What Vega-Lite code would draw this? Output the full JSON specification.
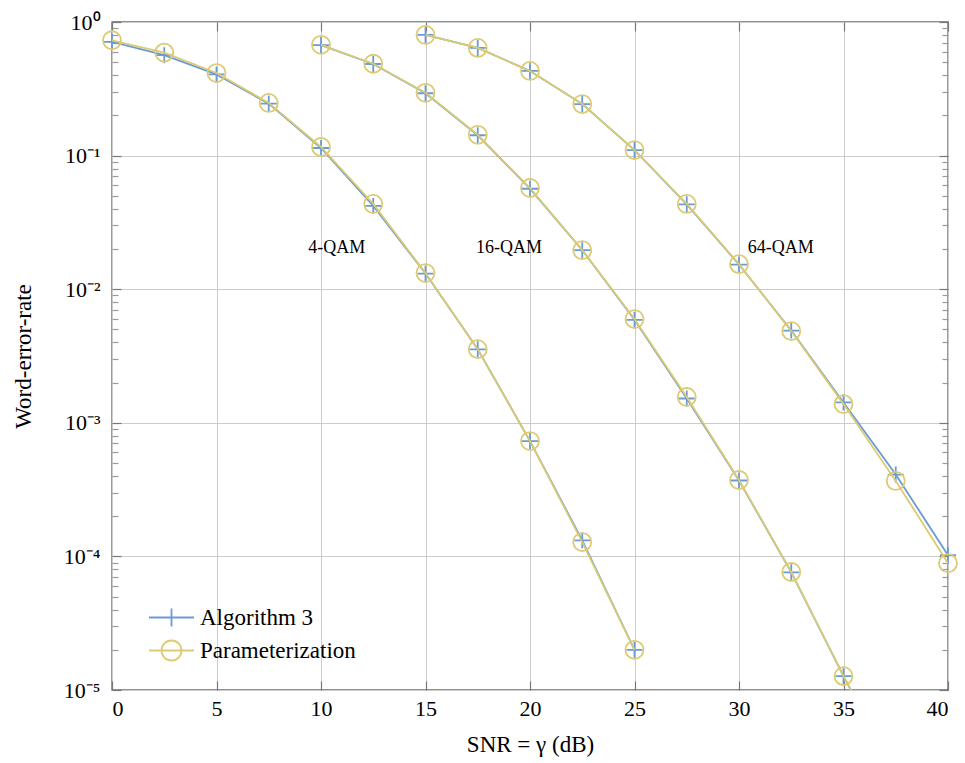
{
  "$schema": "https://vega.github.io/schema/vega-lite/v6.json",
  "width": 836,
  "height": 668,
  "autosize": "none",
  "padding": {"left": 112, "top": 22, "right": 17, "bottom": 73},
  "background": "white",
  "config": {
    "view": {"stroke": "#222222", "strokeWidth": 1.3},
    "font": "Liberation Serif, serif",
    "text": {"font": "Liberation Serif, serif"},
    "legend": {"labelFont": "Liberation Serif, serif", "titleFont": "Liberation Serif, serif"},
    "axis": {
      "labelFont": "Liberation Serif, serif",
      "titleFont": "Liberation Serif, serif",
      "labelColor": "black",
      "titleColor": "black",
      "labelFontSize": 22,
      "titleFontSize": 23,
      "titleFontWeight": "normal",
      "domain": false,
      "gridColor": "#cccccc",
      "gridWidth": 1,
      "tickColor": "#777777",
      "tickWidth": 1.2
    }
  },
  "data": {
    "values": [
      {"mod": "4-QAM", "series": "Algorithm 3", "snr": 0, "wer": 0.71},
      {"mod": "4-QAM", "series": "Algorithm 3", "snr": 2.5, "wer": 0.565},
      {"mod": "4-QAM", "series": "Algorithm 3", "snr": 5, "wer": 0.405},
      {"mod": "4-QAM", "series": "Algorithm 3", "snr": 7.5, "wer": 0.245},
      {"mod": "4-QAM", "series": "Algorithm 3", "snr": 10, "wer": 0.114},
      {"mod": "4-QAM", "series": "Algorithm 3", "snr": 12.5, "wer": 0.042},
      {"mod": "4-QAM", "series": "Algorithm 3", "snr": 15, "wer": 0.0131},
      {"mod": "4-QAM", "series": "Algorithm 3", "snr": 17.5, "wer": 0.00355},
      {"mod": "4-QAM", "series": "Algorithm 3", "snr": 20, "wer": 0.00073},
      {"mod": "4-QAM", "series": "Algorithm 3", "snr": 22.5, "wer": 0.000132},
      {"mod": "4-QAM", "series": "Algorithm 3", "snr": 25, "wer": 0.00002},
      {"mod": "16-QAM", "series": "Algorithm 3", "snr": 10, "wer": 0.672},
      {"mod": "16-QAM", "series": "Algorithm 3", "snr": 12.5, "wer": 0.485},
      {"mod": "16-QAM", "series": "Algorithm 3", "snr": 15, "wer": 0.293},
      {"mod": "16-QAM", "series": "Algorithm 3", "snr": 17.5, "wer": 0.142},
      {"mod": "16-QAM", "series": "Algorithm 3", "snr": 20, "wer": 0.0565},
      {"mod": "16-QAM", "series": "Algorithm 3", "snr": 22.5, "wer": 0.0196},
      {"mod": "16-QAM", "series": "Algorithm 3", "snr": 25, "wer": 0.0059},
      {"mod": "16-QAM", "series": "Algorithm 3", "snr": 27.5, "wer": 0.00152},
      {"mod": "16-QAM", "series": "Algorithm 3", "snr": 30, "wer": 0.00037},
      {"mod": "16-QAM", "series": "Algorithm 3", "snr": 32.5, "wer": 0.000076},
      {"mod": "16-QAM", "series": "Algorithm 3", "snr": 35, "wer": 0.0000127},
      {"mod": "16-QAM", "series": "Algorithm 3", "snr": 37.5, "wer": 0.0000023},
      {"mod": "64-QAM", "series": "Algorithm 3", "snr": 15, "wer": 0.8},
      {"mod": "64-QAM", "series": "Algorithm 3", "snr": 17.5, "wer": 0.64},
      {"mod": "64-QAM", "series": "Algorithm 3", "snr": 20, "wer": 0.43},
      {"mod": "64-QAM", "series": "Algorithm 3", "snr": 22.5, "wer": 0.243},
      {"mod": "64-QAM", "series": "Algorithm 3", "snr": 25, "wer": 0.11},
      {"mod": "64-QAM", "series": "Algorithm 3", "snr": 27.5, "wer": 0.0432},
      {"mod": "64-QAM", "series": "Algorithm 3", "snr": 30, "wer": 0.0153},
      {"mod": "64-QAM", "series": "Algorithm 3", "snr": 32.5, "wer": 0.0049},
      {"mod": "64-QAM", "series": "Algorithm 3", "snr": 35, "wer": 0.00142},
      {"mod": "64-QAM", "series": "Algorithm 3", "snr": 37.5, "wer": 0.00041},
      {"mod": "64-QAM", "series": "Algorithm 3", "snr": 40, "wer": 0.000102},
      {"mod": "4-QAM", "series": "Parameterization", "snr": 0, "wer": 0.73},
      {"mod": "4-QAM", "series": "Parameterization", "snr": 2.5, "wer": 0.59},
      {"mod": "4-QAM", "series": "Parameterization", "snr": 5, "wer": 0.415},
      {"mod": "4-QAM", "series": "Parameterization", "snr": 7.5, "wer": 0.248},
      {"mod": "4-QAM", "series": "Parameterization", "snr": 10, "wer": 0.116},
      {"mod": "4-QAM", "series": "Parameterization", "snr": 12.5, "wer": 0.0435},
      {"mod": "4-QAM", "series": "Parameterization", "snr": 15, "wer": 0.0132},
      {"mod": "4-QAM", "series": "Parameterization", "snr": 17.5, "wer": 0.00356},
      {"mod": "4-QAM", "series": "Parameterization", "snr": 20, "wer": 0.00073},
      {"mod": "4-QAM", "series": "Parameterization", "snr": 22.5, "wer": 0.000128},
      {"mod": "4-QAM", "series": "Parameterization", "snr": 25, "wer": 0.00002},
      {"mod": "16-QAM", "series": "Parameterization", "snr": 10, "wer": 0.675},
      {"mod": "16-QAM", "series": "Parameterization", "snr": 12.5, "wer": 0.487},
      {"mod": "16-QAM", "series": "Parameterization", "snr": 15, "wer": 0.295},
      {"mod": "16-QAM", "series": "Parameterization", "snr": 17.5, "wer": 0.143},
      {"mod": "16-QAM", "series": "Parameterization", "snr": 20, "wer": 0.0572},
      {"mod": "16-QAM", "series": "Parameterization", "snr": 22.5, "wer": 0.0196},
      {"mod": "16-QAM", "series": "Parameterization", "snr": 25, "wer": 0.00598},
      {"mod": "16-QAM", "series": "Parameterization", "snr": 27.5, "wer": 0.00156},
      {"mod": "16-QAM", "series": "Parameterization", "snr": 30, "wer": 0.000373},
      {"mod": "16-QAM", "series": "Parameterization", "snr": 32.5, "wer": 0.0000764},
      {"mod": "16-QAM", "series": "Parameterization", "snr": 35, "wer": 0.0000127},
      {"mod": "16-QAM", "series": "Parameterization", "snr": 37.5, "wer": 0.0000024},
      {"mod": "64-QAM", "series": "Parameterization", "snr": 15, "wer": 0.8},
      {"mod": "64-QAM", "series": "Parameterization", "snr": 17.5, "wer": 0.64},
      {"mod": "64-QAM", "series": "Parameterization", "snr": 20, "wer": 0.43},
      {"mod": "64-QAM", "series": "Parameterization", "snr": 22.5, "wer": 0.243},
      {"mod": "64-QAM", "series": "Parameterization", "snr": 25, "wer": 0.11},
      {"mod": "64-QAM", "series": "Parameterization", "snr": 27.5, "wer": 0.0435},
      {"mod": "64-QAM", "series": "Parameterization", "snr": 30, "wer": 0.0154},
      {"mod": "64-QAM", "series": "Parameterization", "snr": 32.5, "wer": 0.00486},
      {"mod": "64-QAM", "series": "Parameterization", "snr": 35, "wer": 0.00138},
      {"mod": "64-QAM", "series": "Parameterization", "snr": 37.5, "wer": 0.000367},
      {"mod": "64-QAM", "series": "Parameterization", "snr": 40, "wer": 0.000089}
    ]
  },
  "resolve": {"axis": {"x": "independent", "y": "independent"}},
  "layer": [
    {
      "transform": [{"filter": "datum.series === 'Algorithm 3'"}],
      "mark": {"type": "line", "strokeWidth": 1.8, "clip": true},
      "encoding": {
        "x": {
          "field": "snr", "type": "quantitative",
          "scale": {"domain": [0, 40], "nice": false, "zero": false},
          "axis": {"orient": "bottom", "values": [0, 5, 10, 15, 20, 25, 30, 35, 40], "grid": true, "tickSize": -9, "labelPadding": 17, "labelFont": "Liberation Serif, serif", "titleFont": "Liberation Serif, serif", "title": "SNR = γ (dB)", "titlePadding": 14}
        },
        "y": {
          "field": "wer", "type": "quantitative",
          "scale": {"type": "log", "domain": [0.00001, 1], "nice": false},
          "axis": {
            "orient": "left", "values": [0.00001, 0.0001, 0.001, 0.01, 0.1, 1], "grid": true, "tickSize": -9, "labelPadding": 21,
            "labelFont": "Liberation Serif, serif", "titleFont": "Liberation Serif, serif",
            "labelExpr": "datum.value > 0.5 ? '10⁰' : datum.value > 0.05 ? '10⁻¹' : datum.value > 0.005 ? '10⁻²' : datum.value > 0.0005 ? '10⁻³' : datum.value > 0.00005 ? '10⁻⁴' : '10⁻⁵'",
            "title": "Word-error-rate", "titlePadding": 28
          }
        },
        "color": {
          "field": "series", "type": "nominal",
          "scale": {"domain": ["Algorithm 3", "Parameterization"], "range": ["#6a9bd5", "#dccb72"]},
          "legend": {
            "orient": "none", "legendX": 48, "legendY": 584, "title": null, "padding": 0,
            "labelFont": "Liberation Serif, serif", "labelFontSize": 23, "labelColor": "black",
            "symbolSize": 400, "symbolStrokeWidth": 1.8, "symbolFillColor": "transparent",
            "labelOffset": 17, "rowPadding": 5,
            "encode": {"symbols": {"update": {"shape": {"signal": "datum.value === 'Algorithm 3' ? 'M-2.25,0H2.25M0,-0.9V0.9' : 'M-2.25,0H2.25M-1,0A1,1 0 1,0 1,0A1,1 0 1,0 -1,0'"}, "fill": {"value": "transparent"}}}}
          }
        },
        "detail": {"field": "mod"}
      }
    },
    {
      "transform": [{"filter": "datum.series === 'Algorithm 3' && datum.wer >= 0.00001"}],
      "mark": {"type": "point", "shape": "M-1,0H1M0,-1V1", "filled": false, "size": 256, "strokeWidth": 1.8, "opacity": 1},
      "encoding": {
        "x": {"field": "snr", "type": "quantitative", "axis": {"orient": "top", "values": [0, 5, 10, 15, 20, 25, 30, 35, 40], "grid": false, "labels": false, "tickSize": -9, "title": null}},
        "y": {"field": "wer", "type": "quantitative", "axis": {"orient": "right", "values": [0.00001, 0.0001, 0.001, 0.01, 0.1, 1], "grid": false, "labels": false, "tickSize": -9, "title": null}},
        "color": {"field": "series", "type": "nominal"}
      }
    },
    {
      "transform": [{"filter": "datum.series === 'Parameterization'"}],
      "mark": {"type": "line", "strokeWidth": 1.8, "clip": true},
      "encoding": {
        "x": {"field": "snr", "type": "quantitative", "axis": null},
        "y": {"field": "wer", "type": "quantitative", "axis": {"orient": "left", "values": [0.00002, 0.00003, 0.00004, 0.00005, 0.00006, 0.00007, 0.00008, 0.00009, 0.0002, 0.0003, 0.0004, 0.0005, 0.0006, 0.0007, 0.0008, 0.0009, 0.002, 0.003, 0.004, 0.005, 0.006, 0.007, 0.008, 0.009, 0.02, 0.03, 0.04, 0.05, 0.06, 0.07, 0.08, 0.09, 0.2, 0.3, 0.4, 0.5, 0.6, 0.7, 0.8, 0.9], "grid": false, "labels": false, "tickSize": -6, "tickColor": "#999999", "title": null}},
        "color": {"field": "series", "type": "nominal"},
        "detail": {"field": "mod"}
      }
    },
    {
      "transform": [{"filter": "datum.series === 'Parameterization' && datum.wer >= 0.00001"}],
      "mark": {"type": "point", "shape": "circle", "filled": false, "size": 324, "strokeWidth": 1.8, "opacity": 1},
      "encoding": {
        "x": {"field": "snr", "type": "quantitative", "axis": null},
        "y": {"field": "wer", "type": "quantitative", "axis": {"orient": "right", "values": [0.00002, 0.00003, 0.00004, 0.00005, 0.00006, 0.00007, 0.00008, 0.00009, 0.0002, 0.0003, 0.0004, 0.0005, 0.0006, 0.0007, 0.0008, 0.0009, 0.002, 0.003, 0.004, 0.005, 0.006, 0.007, 0.008, 0.009, 0.02, 0.03, 0.04, 0.05, 0.06, 0.07, 0.08, 0.09, 0.2, 0.3, 0.4, 0.5, 0.6, 0.7, 0.8, 0.9], "grid": false, "labels": false, "tickSize": -6, "tickColor": "#999999", "title": null}},
        "color": {"field": "series", "type": "nominal"}
      }
    },
    {
      "data": {"values": [
        {"snr": 10.75, "wer": 0.0203, "label": "4-QAM"},
        {"snr": 19, "wer": 0.0203, "label": "16-QAM"},
        {"snr": 32, "wer": 0.0203, "label": "64-QAM"}
      ]},
      "mark": {"type": "text", "font": "Liberation Serif, serif", "fontSize": 18, "color": "black", "align": "center", "baseline": "middle"},
      "encoding": {
        "x": {"field": "snr", "type": "quantitative", "axis": null},
        "y": {"field": "wer", "type": "quantitative", "axis": null},
        "text": {"field": "label"}
      }
    }
  ]
}
